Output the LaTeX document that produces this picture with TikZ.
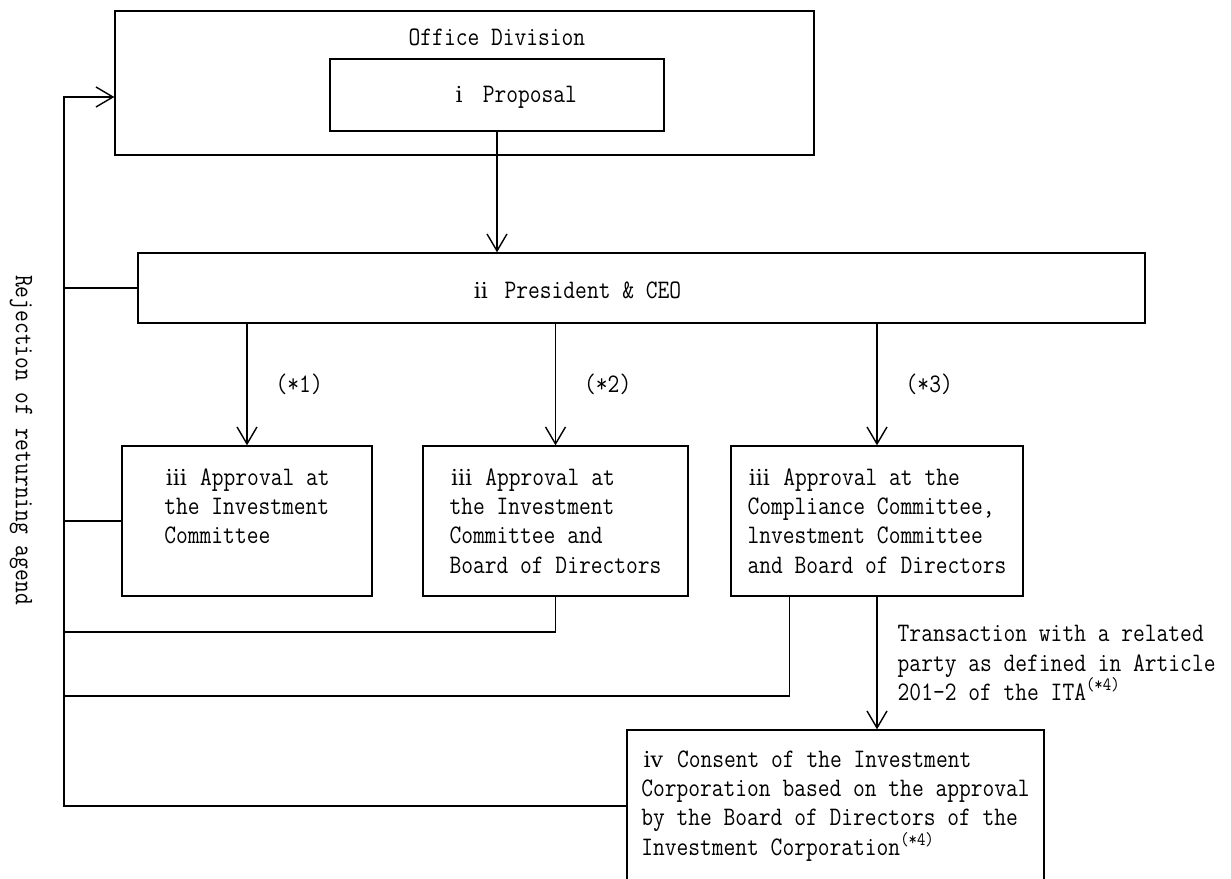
\documentclass[tikz,border=0pt]{standalone}
\usepackage{fontspec}
\newfontfamily\monofam{Latin Modern Mono}[FakeStretch=0.856]
\newfontfamily\numfam{DejaVu Serif}
\newcommand{\boxfont}{\monofam\fontsize{15.2}{16.6}\selectfont}
\newcommand{\stageno}[1]{\makebox[13.66pt]{\numfam\fontsize{12.5}{16.6}\selectfont #1}}
\usetikzlibrary{positioning,arrows.meta}

\begin{document}
\begin{tikzpicture}[x=0.02cm, y=-0.02cm,
  every node/.style={font=\boxfont, inner sep=0pt},
  box/.style={draw, line width=0.8pt, align=left},
  link/.style={line width=0.8pt},
  arrow/.style={link, -{Straight Barb[length=3.4mm,width=4mm]}}]

  \useasboundingbox (0,0) rectangle (1231,879);

  % Boxes
  \node[box, minimum width=13.98cm, minimum height=2.88cm,
    label={[xshift=0.65cm, yshift=0.92cm]center:Office Division}] (office) at (464.5,83) {};
  \node[box, minimum width=6.68cm, minimum height=1.44cm,
    label={[xshift=0.3cm, yshift=-0.04cm]center:\stageno{ⅰ} Proposal}] (proposal) at (497,95) {};
  \node[box, minimum width=20.14cm, minimum height=1.4cm,
    label={[xshift=-1.33cm, yshift=-0.04cm]center:\stageno{ⅱ} President \& CEO}] (ceo) at (641.5,288) {};

  \node[box, minimum width=5cm, minimum height=3cm] (appr1) at (247,521)
    {\stageno{ⅲ} Approval at\\the Investment\\Committee\\\mbox{}};
  \node[box, minimum width=5.3cm, minimum height=3cm] (appr2) at (555.5,521)
    {\stageno{ⅲ} Approval at\\the Investment\\Committee and\\Board of Directors};
  \node[box, minimum width=5.84cm, minimum height=3cm] (appr3) at (877,521)
    {\stageno{ⅲ} Approval at the\\Compliance Committee,\\lnvestment Committee\\and Board of Directors};
  \node[box, minimum width=8.34cm, minimum height=3.04cm] (consent) at (835.5,806)
    {\stageno{ⅳ} Consent of the Investment\\Corporation based on the approval\\by the Board of Directors of the\\Investment Corporation\textsuperscript{(*4)}};

  % Rail on the left
  \coordinate (railtop) at (64,97);
  \coordinate (rail2) at (64,632);
  \coordinate (rail3) at (64,696);
  \node[rotate=-90] (reject) at (21,440) {Rejection of returning agend};

  % Edges
  \draw[arrow] (proposal.south) -- (proposal.south |- ceo.north);
  \draw[arrow] (appr1.north |- ceo.south) -- node[right=0.56cm] (note1) {(*1)} (appr1.north);
  \draw[arrow] (appr2.north |- ceo.south) -- node[right=0.56cm] (note2) {(*2)} (appr2.north);
  \draw[arrow] (appr3.north |- ceo.south) -- node[right=0.56cm] (note3) {(*3)} (appr3.north);
  \draw[arrow] (appr3.south) -- node[right=0.4cm, align=left] (related)
    {Transaction with a related\\party as defined in Article\\201-2 of the ITA\textsuperscript{(*4)}} (appr3.south |- consent.north);

  \draw[arrow] (consent.west) -| (railtop) -- (railtop -| office.west);
  \draw[link] (ceo.west) -- (ceo.west -| railtop);
  \draw[link] (appr1.west) -- (appr1.west -| railtop);
  \draw[link] (appr2.south) |- (rail2);
  \draw[link] ([xshift=1.18cm]appr3.south west) |- (rail3);

\end{tikzpicture}
\end{document}
